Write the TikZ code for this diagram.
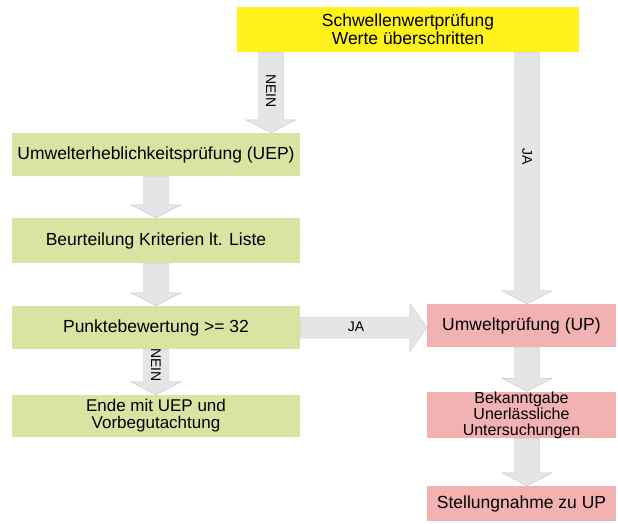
\documentclass[tikz,border=0pt]{standalone}
\usepackage{fontspec}
\setmainfont{Liberation Sans}
\usetikzlibrary{calc}
\definecolor{yel}{HTML}{FFF21C}
\definecolor{grn}{HTML}{D7E4A2}
\definecolor{pnk}{HTML}{F3B2B2}
\definecolor{arr}{HTML}{E5E5E5}
\definecolor{arrl}{HTML}{C8C8C8}
\tikzset{
  box/.style={inner sep=0pt, align=center, font=\fontsize{17.5}{18}\selectfont, text=black},
  gbox/.style={box, fill=grn, minimum width=288pt},
  pbox/.style={box, fill=pnk, minimum width=189pt},
  ybox/.style={box, fill=yel, minimum width=342pt, minimum height=45pt},
  fat/.style={fill=arr, draw=arrl, line width=0.4pt},
  lbl/.style={font=\fontsize{14}{14}\selectfont, inner sep=0pt, text=black}
}
\newcommand\vfat[3]{\path[fat] let \p1=(#2.south), \p2=(#3.north) in
  (#1pt-12.5pt,\y1) -- (#1pt+12.5pt,\y1) -- (#1pt+12.5pt,\y2+13pt) -- (#1pt+25pt,\y2+13pt)
  -- (#1pt,\y2) -- (#1pt-25pt,\y2+13pt) -- (#1pt-12.5pt,\y2+13pt) -- cycle;}
\begin{document}
\begin{tikzpicture}[x=1pt,y=-1pt]
\useasboundingbox (0,0) rectangle (618,523);
\fill[white] (0,0) rectangle (618,523);
% boxes
\node[ybox] (thr) at (408,29.5) {Schwellenwertprüfung\\Werte überschritten};
\node[gbox, minimum height=43pt] (uep) at (156,154.5) {Umwelterheblichkeitsprüfung (UEP)};
\node[gbox, minimum height=45pt] (beu) at (156,240.5) {Beurteilung Kriterien lt. Liste};
\node[gbox, minimum height=43pt] (pkt) at (156,327.5) {Punktebewertung >= 32};
\node[gbox, minimum height=42pt, font=\fontsize{17}{17}\selectfont] (end) at (156,416) {Ende mit UEP und\\Vorbegutachtung};
\node[pbox, minimum height=43pt] (up) at (521.5,325.5) {Umweltprüfung (UP)};
\node[pbox, minimum height=44pt, font=\fontsize{16}{16}\selectfont] (bek) at (521.5,415) {Bekanntgabe\\Unerlässliche\\Untersuchungen};
\node[pbox, minimum height=35pt] (st) at (521.5,503.5) {Stellungnahme zu UP};
% fat arrows
\vfat{271}{thr}{uep}
\vfat{527}{thr}{up}
\vfat{156}{uep}{beu}
\vfat{156}{beu}{pkt}
\vfat{156}{pkt}{end}
\vfat{527}{up}{bek}
\vfat{527}{bek}{st}
\path[fat] let \p1=(pkt.east), \p2=(up.west) in
  (\x1,\y1+10.5pt) -- (\x2-17pt,\y1+10.5pt) -- (\x2-17pt,\y1+24pt) -- (\x2,\y1)
  -- (\x2-17pt,\y1-24pt) -- (\x2-17pt,\y1-10.5pt) -- (\x1,\y1-10.5pt) -- cycle;
% labels
\node[lbl, rotate=-90] (l1) at (271,91) {NEIN};
\node[lbl, rotate=-90] (l2) at (527,157) {JA};
\node[lbl, rotate=-90] (l3) at (156,365) {NEIN};
\node[lbl] (l4) at (356,327) {JA};
\end{tikzpicture}
\end{document}
